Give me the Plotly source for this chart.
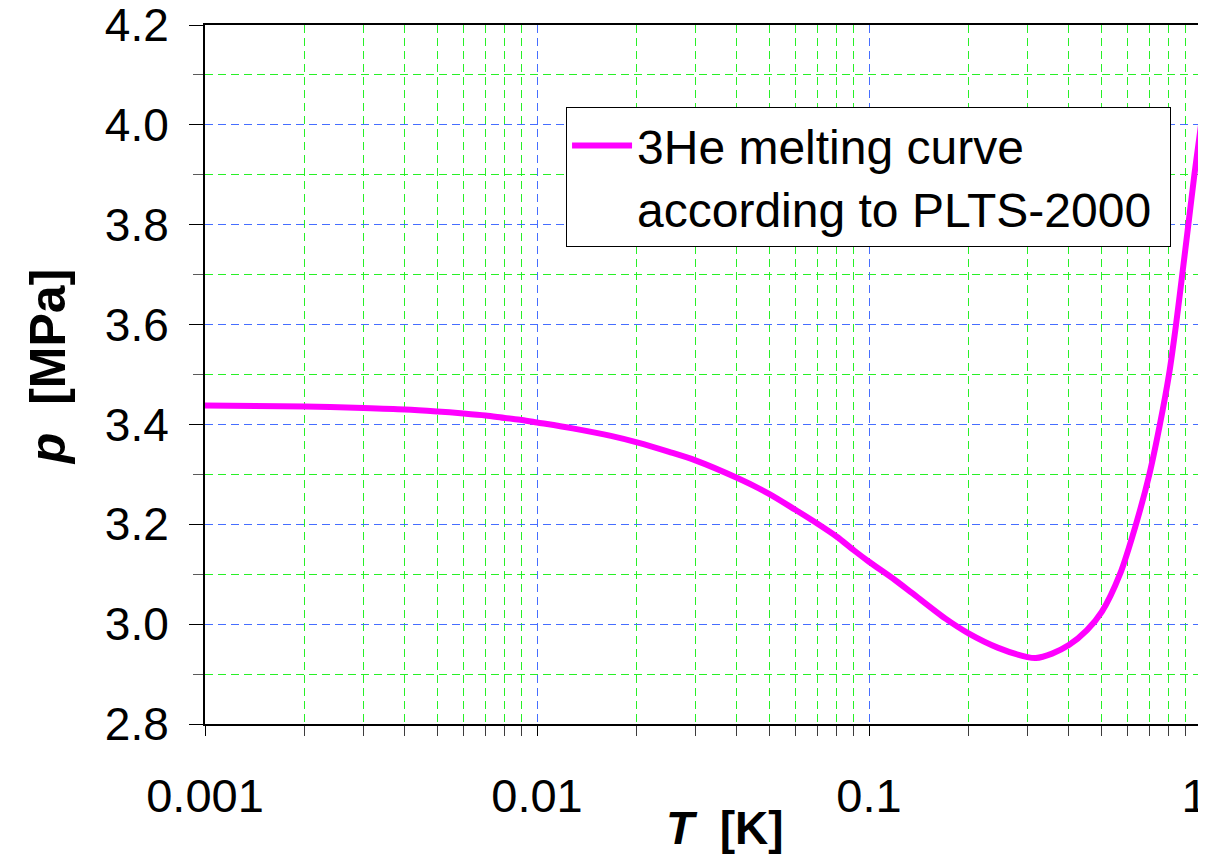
import plotly.graph_objects as go

# Data
T_K = [0.001, 0.002, 0.003, 0.004, 0.005, 0.006, 0.007, 0.008, 0.009, 0.01,
       0.0128, 0.0167, 0.02, 0.025, 0.03, 0.04, 0.05, 0.06, 0.07, 0.08,
       0.09, 0.1, 0.12, 0.135, 0.17, 0.2, 0.244, 0.3, 0.318, 0.356,
       0.4, 0.4535, 0.503, 0.57, 0.637, 0.699, 0.752, 0.801, 0.841, 0.878,
       0.916, 0.955, 1.0]
p_MPa = [3.438, 3.436, 3.433, 3.430, 3.426, 3.422, 3.418, 3.413, 3.409, 3.404,
         3.392, 3.377, 3.364, 3.345, 3.328, 3.293, 3.261, 3.229, 3.201, 3.175,
         3.148, 3.125, 3.088, 3.062, 3.011, 2.981, 2.953, 2.934, 2.932, 2.941,
         2.958, 2.988, 3.025, 3.100, 3.200, 3.300, 3.400, 3.500, 3.600, 3.700,
         3.800, 3.900, 4.000]

series_name = "3He melting curve<br>according to PLTS-2000\u00a0"
x_tick_vals = [0.001, 0.01, 0.1, 1]
x_tick_text = ["0.001", "0.01", "0.1", "1\u00a0"]

FONT = "Arial, Liberation Sans, sans-serif"
MAJOR_GRID = "rgb(70,110,255)"
MINOR_GRID = "rgb(40,240,40)"

fig = go.Figure()
fig.add_trace(go.Scatter(
    x=T_K, y=p_MPa, mode="lines", name=series_name,
    line=dict(color="#FF00FF", width=6, shape="spline", smoothing=0.8),
))

fig.update_layout(
    width=1198, height=848,
    margin=dict(l=197, r=5, t=17, b=132, autoexpand=False),
    paper_bgcolor="white", plot_bgcolor="white",
    font=dict(family=FONT, size=47, color="black"),
    showlegend=True,
    legend=dict(
        x=0.3625, y=0.883, xanchor="left", yanchor="top",
        bgcolor="white", bordercolor="black", borderwidth=1,
        font=dict(family=FONT, size=48, color="black"),
        valign="top", itemwidth=60, tracegroupgap=0,
    ),
    xaxis=dict(
        type="log", range=[-3, 0], tickvals=x_tick_vals, ticktext=x_tick_text,
        showline=True, linecolor="black", linewidth=2, mirror=True,
        ticks="outside", ticklen=10, tickcolor="black", tickwidth=1,
        ticklabelstandoff=20, ticklabeloverflow="allow",
        showgrid=True, gridcolor=MAJOR_GRID, gridwidth=1, griddash="8px,5px",
        zeroline=False, automargin=False,
        minor=dict(ticks="outside", ticklen=10, tickcolor="rgb(60,60,60)",
                   showgrid=True, gridcolor=MINOR_GRID, gridwidth=1,
                   griddash="8px,5px", dtick="D1"),
        tickfont=dict(family=FONT, size=47),
    ),
    yaxis=dict(
        range=[2.8, 4.2], dtick=0.2, tick0=2.8, tickformat=".1f",
        showline=True, linecolor="black", linewidth=2, mirror=True,
        ticks="outside", ticklen=14, tickcolor="black", tickwidth=1,
        ticklabelstandoff=11, ticklabeloverflow="allow",
        showgrid=True, gridcolor=MAJOR_GRID, gridwidth=1, griddash="8px,5px",
        zeroline=False, automargin=False,
        minor=dict(ticks="outside", ticklen=10, tickcolor="rgb(90,90,90)",
                   dtick=0.1, showgrid=True, gridcolor=MINOR_GRID,
                   gridwidth=1, griddash="8px,5px"),
        tickfont=dict(family=FONT, size=46),
    ),
    annotations=[
        dict(text="<b><i>T</i>  [K]</b>", xref="paper", yref="paper",
             x=0.522, y=-0.149, xanchor="center", yanchor="middle",
             showarrow=False, font=dict(family=FONT, size=46)),
        dict(text="<b><i>p</i>  [MPa]</b>", xref="paper", yref="paper",
             x=-0.158, y=0.51, xanchor="center", yanchor="middle",
             textangle=-90, showarrow=False, font=dict(family=FONT, size=50)),
    ],
)

fig.write_html("out.html")
